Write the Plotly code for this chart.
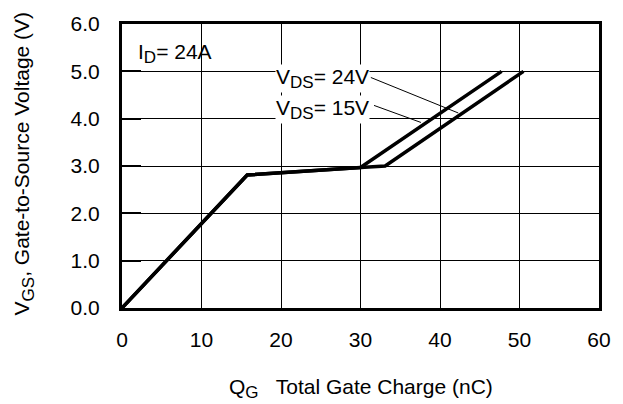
import plotly.graph_objects as go

# Data
qg_24 = [0, 15.75, 30.0, 47.75]
vgs_24 = [0, 2.81, 2.97, 5.0]
qg_15 = [0, 15.75, 30.0, 33.1, 50.5]
vgs_15 = [0, 2.81, 2.97, 3.0, 5.0]

x_ticks = [0, 10, 20, 30, 40, 50, 60]
y_ticks = [0, 1, 2, 3, 4, 5, 6]
y_ticktext = ["0.0", "1.0", "2.0", "3.0", "4.0", "5.0", "6.0"]

FONT = "Arial, Liberation Sans, Helvetica, sans-serif"


def sub(s, size=17):
    return "<sub><span style='font-size:%dpx'>%s</span></sub>" % (size, s)


fig = go.Figure()
fig.add_trace(go.Scatter(x=qg_24, y=vgs_24, mode="lines",
                         line=dict(color="black", width=3.5), showlegend=False))
fig.add_trace(go.Scatter(x=qg_15, y=vgs_15, mode="lines",
                         line=dict(color="black", width=3.5), showlegend=False))

# leader lines
fig.add_shape(type="line", x0=31.3, y0=4.87, x1=42.3, y1=4.12,
              line=dict(color="black", width=1))
fig.add_shape(type="line", x0=31.7, y0=4.28, x1=37.6, y1=3.92,
              line=dict(color="black", width=1))

fig.add_annotation(x=1.8, y=5.04, xref="x", yref="y", xanchor="left", yanchor="bottom",
                   text="I" + sub("D") + "= 24A", showarrow=False,
                   font=dict(family=FONT, size=21, color="black"))
fig.add_annotation(x=19.2, y=4.85, xref="x", yref="y", xanchor="left", yanchor="middle",
                   text="V" + sub("DS") + "= 24V", showarrow=False, bgcolor="white", borderpad=0,
                   font=dict(family=FONT, size=21, color="black"))
fig.add_annotation(x=19.2, y=4.19, xref="x", yref="y", xanchor="left", yanchor="middle",
                   text="V" + sub("DS") + "= 15V", showarrow=False, bgcolor="white", borderpad=0,
                   font=dict(family=FONT, size=21, color="black"))

# axis titles
fig.add_annotation(x=0.502, y=-0.283, xref="paper", yref="paper", xanchor="center", yanchor="middle",
                   text="Q" + sub("G") + "   Total Gate Charge (nC)", showarrow=False,
                   font=dict(family=FONT, size=21, color="black"))
fig.add_annotation(x=-0.207, y=0.51, xref="paper", yref="paper", xanchor="center", yanchor="middle",
                   text="V" + sub("GS") + ", Gate-to-Source Voltage (V)", showarrow=False, textangle=-90,
                   font=dict(family=FONT, size=21, color="black"))

fig.update_layout(
    width=623, height=404,
    margin=dict(l=122, r=21, t=20, b=96),
    paper_bgcolor="white", plot_bgcolor="white",
    font=dict(family=FONT, size=21, color="black"),
    xaxis=dict(range=[0, 60], tickvals=x_ticks, showgrid=True, gridcolor="black", gridwidth=1,
               showline=True, linecolor="black", linewidth=3, mirror=True, zeroline=False,
               ticks="", ticklabelstandoff=11, tickfont=dict(size=21)),
    yaxis=dict(range=[0, 6], tickvals=y_ticks, ticktext=y_ticktext, showgrid=True,
               gridcolor="black", gridwidth=1, showline=True, linecolor="black", linewidth=3,
               mirror=True, zeroline=False, ticks="inside", ticklen=19, tickwidth=2,
               tickcolor="black", ticklabelstandoff=15, tickfont=dict(size=21)),
)

fig.write_html("out.html", config={"displayModeBar": False},
               post_script="document.body.style.margin='0';")
